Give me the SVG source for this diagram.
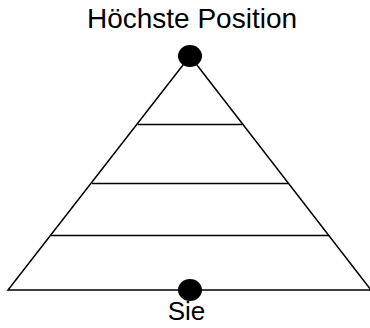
<svg xmlns="http://www.w3.org/2000/svg" width="370" height="328" viewBox="0 0 370 328">
<style>
.l{stroke:#000;stroke-width:1.5;fill:none}
.t{font-family:"Liberation Sans",Arial,sans-serif;fill:#000;text-anchor:middle}
.d{fill:#000}
</style>
<rect width="370" height="328" fill="#fff"/>
<g id="connectors">
<polygon class="l" points="190,56 8,290 371,290"/>
<line class="l" x1="138" y1="124.5" x2="242" y2="124.5"/>
<line class="l" x1="92" y1="183.5" x2="288" y2="183.5"/>
<line class="l" x1="51" y1="235.5" x2="329" y2="235.5"/>
</g>
<g id="top">
<ellipse class="d" cx="190" cy="56" rx="12" ry="11"/>
<text class="t" x="192" y="27.5" font-size="28">Höchste Position</text>
</g>
<g id="bottom">
<ellipse class="d" cx="190" cy="290" rx="12" ry="11"/>
<text class="t" x="186.5" y="320" font-size="26">Sie</text>
</g>
</svg>
